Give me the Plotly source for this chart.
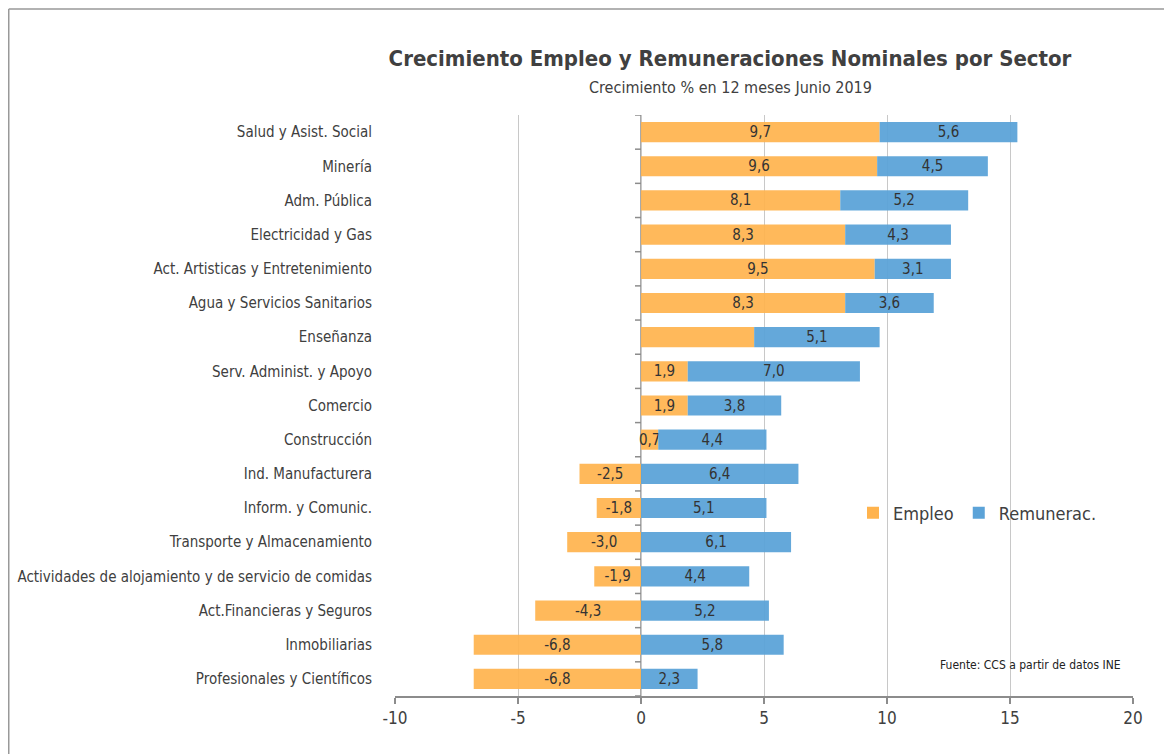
import plotly.graph_objects as go

categories = [
    "Salud y Asist. Social", "Minería", "Adm. Pública", "Electricidad y Gas",
    "Act. Artisticas y Entretenimiento", "Agua y Servicios Sanitarios", "Enseñanza",
    "Serv. Administ. y Apoyo", "Comercio", "Construcción", "Ind. Manufacturera",
    "Inform. y Comunic.", "Transporte y Almacenamiento",
    "Actividades de alojamiento y de servicio de comidas",
    "Act.Financieras y Seguros", "Inmobiliarias", "Profesionales y Científicos",
]
empleo = [9.7, 9.6, 8.1, 8.3, 9.5, 8.3, 4.6, 1.9, 1.9, 0.7, -2.5, -1.8, -3.0, -1.9, -4.3, -6.8, -6.8]
remunerac = [5.6, 4.5, 5.2, 4.3, 3.1, 3.6, 5.1, 7.0, 3.8, 4.4, 6.4, 5.1, 6.1, 4.4, 5.2, 5.8, 2.3]
empleo_label_hidden = ["Enseñanza"]
x_ticks = [-10, -5, 0, 5, 10, 15, 20]

FONT = "DejaVu Sans Condensed, Liberation Sans Narrow, sans-serif"
TXT = "#404040"
AXC = "#8C8C8C"

def fmt(v):
    return f"{v:.1f}".replace(".", ",")

emp_text = ["" if c in empleo_label_hidden else fmt(v) for c, v in zip(categories, empleo)]
rem_text = [fmt(v) for v in remunerac]

# figure is placed 8px from page top-left (body margin), coordinates below are figure px
W, H = 1172, 754
ml, mr, mt, mb = 387, 47, 107, 66
pw, ph = W - ml - mr, H - mt - mb
xmin, xmax = x_ticks[0], x_ticks[-1]

def px_x(px):
    return (px - ml) / pw

def px_y(py):
    return (mt + ph - py) / ph

fig = go.Figure()
fig.add_trace(go.Bar(
    y=categories, x=empleo, orientation="h", name="Empleo",
    marker=dict(color="#FFB34D", opacity=0.92, line=dict(width=0)),
    text=emp_text, textposition="inside", insidetextanchor="middle",
    textangle=0, constraintext="none",
    textfont=dict(family=FONT, size=15, color="#333333"),
))
fig.add_trace(go.Bar(
    y=categories, x=remunerac, orientation="h", name="Remunerac.",
    marker=dict(color="#5CA3D8", opacity=0.95, line=dict(width=0)),
    text=rem_text, textposition="inside", insidetextanchor="middle",
    textangle=0, constraintext="none",
    textfont=dict(family=FONT, size=15, color="#333333"),
))

n = len(categories)
boundaries = [i - 0.5 for i in range(n + 1)]

fig.update_layout(
    width=W, height=H,
    margin=dict(l=ml, r=mr, t=mt, b=mb, autoexpand=False),
    barmode="relative", bargap=0.41,
    paper_bgcolor="white", plot_bgcolor="white",
    font=dict(family=FONT, color=TXT),
    title=dict(
        text="<b>Crecimiento Empleo y Remuneraciones Nominales por Sector</b>",
        x=722 / W, xanchor="center", y=1 - 50 / H, yanchor="middle",
        font=dict(family=FONT, size=22, color=TXT),
    ),
    xaxis=dict(
        range=[xmin, xmax], tickvals=x_ticks, ticktext=[str(t) for t in x_ticks],
        showgrid=True, gridcolor="#C8C8C8", gridwidth=1.3,
        zeroline=False, showline=True, linecolor=AXC, linewidth=1.5,
        ticks="outside", ticklen=6, tickcolor=AXC, tickwidth=1.5,
        tickfont=dict(family=FONT, size=17, color=TXT),
        layer="below traces", fixedrange=True,
    ),
    yaxis=dict(
        categoryorder="array", categoryarray=categories, autorange=False,
        range=[n - 0.5, -0.5],
        showgrid=False, zeroline=False, showline=False, ticks="",
        ticklabelstandoff=22,
        tickfont=dict(family=FONT, size=15, color=TXT),
    ),
    legend=dict(
        orientation="h", x=px_x(845), y=px_y(505),
        xanchor="left", yanchor="middle", traceorder="normal",
        font=dict(family=FONT, size=18, color=TXT), bgcolor="rgba(0,0,0,0)",
        itemwidth=30,
    ),
    showlegend=True,
)

# vertical axis line at x = 0 with ticks at category boundaries
fig.add_shape(type="line", xref="x", yref="y", x0=0, x1=0,
              y0=boundaries[0], y1=boundaries[-1], layer="below",
              line=dict(color=AXC, width=1.5))
for b in boundaries:
    fig.add_shape(type="line", xref="x", yref="y", xsizemode="pixel", xanchor=0,
                  x0=-6, x1=0, y0=b, y1=b, layer="below",
                  line=dict(color=AXC, width=1.5))

fig.add_annotation(
    text="Crecimiento % en 12 meses Junio 2019", xref="paper", yref="paper",
    x=px_x(722), y=px_y(80), xanchor="center", yanchor="middle",
    showarrow=False, font=dict(family=FONT, size=16, color=TXT),
)
fig.add_annotation(
    text="Fuente: CCS a partir de datos INE", xref="paper", yref="paper",
    x=px_x(1115), y=px_y(657), xanchor="right", yanchor="middle",
    showarrow=False, font=dict(family=FONT, size=12, color="#222222"),
)

# outer frame (figure border; only top and left visible in the window)
fx0 = px_x(0.75)
fy_top = px_y(1)
fig.add_shape(type="line", xref="paper", yref="paper", x0=fx0, x1=px_x(W),
              y0=fy_top, y1=fy_top, line=dict(color="#999999", width=1.5))
fig.add_shape(type="line", xref="paper", yref="paper", x0=fx0, x1=fx0,
              y0=fy_top, y1=px_y(H), line=dict(color="#999999", width=1.5))

fig.write_html("out.html")
